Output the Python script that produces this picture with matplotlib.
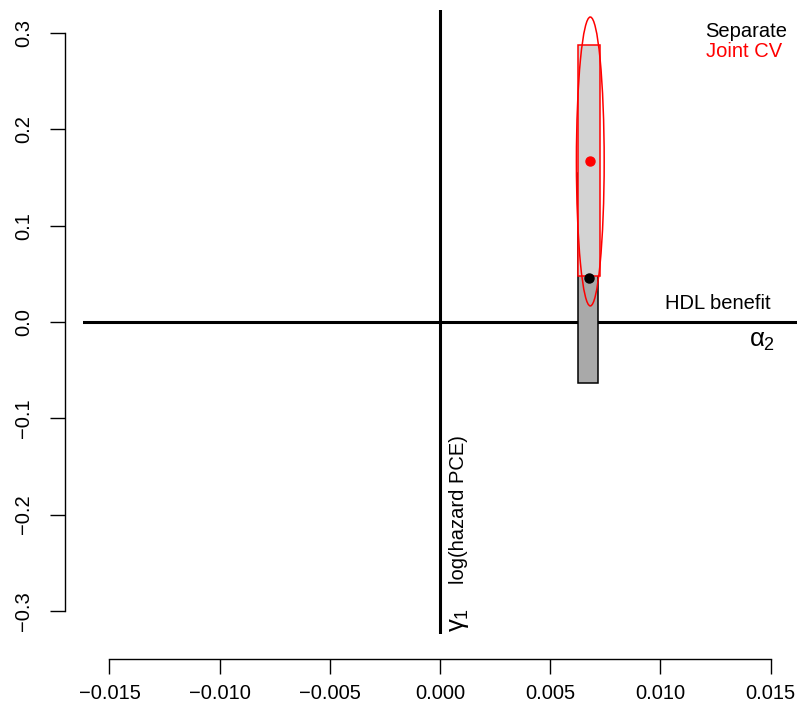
import numpy as np
import matplotlib
matplotlib.use("Agg")
import matplotlib.pyplot as plt
from matplotlib.patches import Rectangle, Ellipse

plt.rcParams['font.family'] = ['Liberation Sans', 'DejaVu Sans']
plt.rcParams['mathtext.fontset'] = 'custom'
plt.rcParams['mathtext.rm'] = 'Liberation Sans'
plt.rcParams['mathtext.it'] = 'Liberation Sans'

# DATA
methods = ['Separate', 'Joint CV']
colors = ['black', 'red']
alpha2_est = [0.00677, 0.00682]          # HDL benefit estimate
gamma1_est = [0.0458, 0.1667]            # log(hazard PCE) estimate
alpha2_ci = [(0.00627, 0.00718), (0.00627, 0.00727)]
gamma1_ci = [(-0.0635, 0.155), (0.0479, 0.2875)]
box_fill = ['darkgray', 'lightgray']
ellipse_halfwidth = 0.00063               # joint confidence region
ellipse_halfheight = 0.15

xticks = [-0.015, -0.010, -0.005, 0.000, 0.005, 0.010, 0.015]
yticks = [-0.3, -0.2, -0.1, 0.0, 0.1, 0.2, 0.3]

fs = 14.5


def fmt(v, nd):
    return ('%.*f' % (nd, v)).replace('-', '\u2212')


# PLOT
fig = plt.figure(figsize=(8.01, 7.19), dpi=100)
ax = fig.add_axes([83/801, 85/719, 714/801, 624/719])
ax.set_xlim(-0.0162, 0.0162)
ax.set_ylim(-0.324, 0.324)

# axes crossing at zero
ax.axhline(0, color='black', lw=2.2, zorder=1)
ax.axvline(0, color='black', lw=2.2, zorder=1)

# confidence boxes
for i in range(len(methods)):
    x0, x1 = alpha2_ci[i]
    y0, y1 = gamma1_ci[i]
    ax.add_patch(Rectangle((x0, y0), x1 - x0, y1 - y0, facecolor=box_fill[i],
                           edgecolor=colors[i], lw=1.1, zorder=2 + i))

# joint ellipse
ax.add_patch(Ellipse((alpha2_est[1], gamma1_est[1]), 2*ellipse_halfwidth, 2*ellipse_halfheight,
                     fill=False, edgecolor='red', lw=1.1, zorder=4))

# point estimates
for i in range(len(methods)):
    ax.plot(alpha2_est[i], gamma1_est[i], 'o', color=colors[i], ms=6.5, zorder=5)

# legend-like text
ax.text(0.01205, 0.302, methods[0], color=colors[0], fontsize=fs, va='center', ha='left')
ax.text(0.01205, 0.281, methods[1], color=colors[1], fontsize=fs, va='center', ha='left')

# axis annotations
ax.text(0.0150, 0.009, 'HDL benefit', fontsize=fs, ha='right', va='bottom')
ax.text(0.0152, -0.007, r'$\alpha_2$', fontsize=fs + 4, ha='right', va='top')
ax.text(0.00086, -0.272, 'log(hazard PCE)', fontsize=fs, rotation=90, ha='center', va='bottom')
ax.text(0.00086, -0.322, r'$\gamma_1$', fontsize=fs + 4, rotation=90, ha='center', va='bottom')

# R-style detached axes
for s in ['top', 'right']:
    ax.spines[s].set_visible(False)
ax.spines['left'].set_position(('outward', 13))
ax.spines['bottom'].set_position(('outward', 18))
ax.spines['left'].set_bounds(-0.3, 0.3)
ax.spines['bottom'].set_bounds(-0.015, 0.015)
ax.spines['left'].set_linewidth(1.0)
ax.spines['bottom'].set_linewidth(1.0)

ax.set_xticks(xticks)
ax.set_xticklabels([fmt(v, 3) for v in xticks])
ax.set_yticks(yticks)
ax.set_yticklabels([fmt(v, 1) for v in yticks], rotation=90, va='center')
ax.tick_params(axis='both', length=10.8, width=1.0, labelsize=fs)
ax.tick_params(axis='x', pad=7)
ax.tick_params(axis='y', pad=12)

fig.savefig('out.png', dpi=100)
